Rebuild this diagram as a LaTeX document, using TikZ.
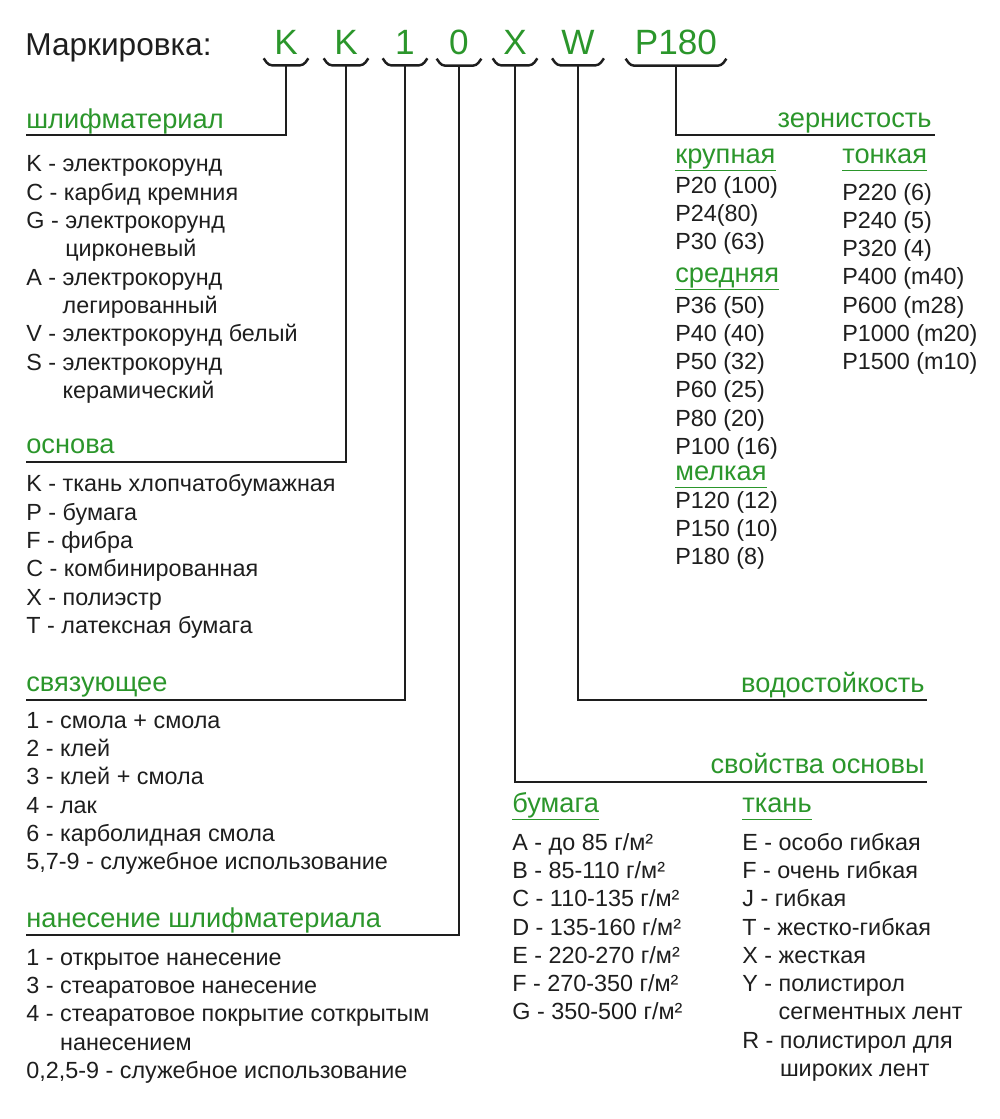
\documentclass[tikz,border=0pt]{standalone}
\usepackage{fontspec}
\setmainfont{Liberation Sans}
\definecolor{leaf}{RGB}{43,150,43}
\definecolor{ink}{RGB}{30,30,30}
\newcommand\titlefont{\fontsize{18}{21}\selectfont}
\newcommand\codefont{\fontsize{20}{24}\selectfont}
\newcommand\headfont{\fontsize{15.5}{18}\selectfont}
\newcommand\bodyfont{\fontsize{13.3}{16}\selectfont}
\begin{document}
\begin{tikzpicture}[x=0.02cm,y=-0.02cm,
    lead/.style={line width=1.6pt,ink},
    brc/.style={line width=1.4pt,ink,rounded corners=2pt},
    code/.style={anchor=base,text=leaf,font=\codefont,inner xsep=1.8mm,inner ysep=0.8mm,minimum width=8.8mm},
    head/.style={text=leaf,font=\headfont,inner sep=0},
    sub/.style={anchor=base west,text=leaf,font=\headfont,inner sep=0},
    subline/.style={leaf,line width=0.8pt},
    item/.style={anchor=base west,text=ink,font=\bodyfont,inner sep=0}]
    \useasboundingbox (0,0) rectangle (1000,1119);

    % 标题与代码
    \node[anchor=base west,inner sep=0,text=ink,font=\titlefont] (title) at (25,55) {Маркировка:};
    \node[code] (cK1) at (286,54) {K};
    \node[code] (cK2) at (346,54) {K};
    \node[code] (c1) at (405,54) {1};
    \node[code] (c0) at (459,54) {0};
    \node[code] (cX) at (515,54) {X};
    \node[code] (cW) at (578,54) {W};
    \node[code] (cP) at (676,54) {P180};

    % 括号
    \foreach \c in {cK1,cK2,c1,c0,cX,cW,cP}
        \draw[brc] (\c.south west) -- ([shift={(5,7)}]\c.south west) -- ([shift={(-5,7)}]\c.south east) -- (\c.south east);

    % 引线
    \coordinate (u1) at (26,135);
    \coordinate (u2) at (26,462);
    \coordinate (u3) at (26,700);
    \coordinate (u4) at (26,935);
    \coordinate (u5) at (927,782);
    \coordinate (u6) at (927,700);
    \coordinate (u7) at (935,135);
    \draw[lead] ([shift={(0,7)}]cK1.south) |- (u1);
    \draw[lead] ([shift={(0,7)}]cK2.south) |- (u2);
    \draw[lead] ([shift={(0,7)}]c1.south) |- (u3);
    \draw[lead] ([shift={(0,7)}]c0.south) |- (u4);
    \draw[lead] ([shift={(0,7)}]cX.south) |- (u5);
    \draw[lead] ([shift={(0,7)}]cW.south) |- (u6);
    \draw[lead] ([shift={(0,7)}]cP.south) |- (u7);

    % 标题
    \node[head,anchor=base west] (hAbr) at (26,128) {шлифматериал};
    \node[head,anchor=base west] (hBase) at (26,453) {основа};
    \node[head,anchor=base west] (hBond) at (26,691) {связующее};
    \node[head,anchor=base west] (hCoat) at (26,927) {нанесение шлифматериала};
    \node[head,anchor=base east] (hGrit) at (932,127) {зернистость};
    \node[head,anchor=base east] (hWater) at (925,692) {водостойкость};
    \node[head,anchor=base east] (hProp) at (925,773) {свойства основы};

    % 左侧列表
    \foreach \t [count=\i from 0] in {K - электрокорунд,C - карбид кремния,G - электрокорунд,
        \phantom{G - }цирконевый,A - электрокорунд,\phantom{A - }легированный,
        V - электрокорунд белый,S - электрокорунд,\phantom{S - }керамический}
        \node[item] (ab\i) at (26,{171.7+28.33*\i}) {\t};
    \foreach \t [count=\i from 0] in {K - ткань хлопчатобумажная,P - бумага,F - фибра,
        C - комбинированная,X - полиэстр,T - латексная бумага}
        \node[item] (bs\i) at (26,{491.7+28.33*\i}) {\t};
    \foreach \t [count=\i from 0] in {1 - смола + смола,2 - клей,3 - клей + смола,4 - лак,
        6 - карболидная смола,{5,7-9 - служебное использование}}
        \node[item] (bd\i) at (26,{728.3+28.33*\i}) {\t};
    \foreach \t [count=\i from 0] in {1 - открытое нанесение,3 - стеаратовое нанесение,
        4 - стеаратовое покрытие соткрытым,\phantom{4 - }нанесением,{0,2,5-9 - служебное использование}}
        \node[item] (ct\i) at (26,{965+28.33*\i}) {\t};

    % 粒度
    \node[sub] (sCoarse) at (675,163) {крупная};
    \node[sub] (sMid) at (675,282) {средняя};
    \node[sub] (sSmall) at (675,480) {мелкая};
    \node[sub] (sFine) at (842,163) {тонкая};
    \foreach \s in {sCoarse,sMid,sSmall,sFine}
        \draw[subline] ([yshift=-1.5mm]\s.base west) -- ([yshift=-1.5mm]\s.base east);
    \foreach \t [count=\i from 0] in {P20 (100),P24(80),P30 (63)}
        \node[item] (gc\i) at (675,{193+28.33*\i}) {\t};
    \foreach \t [count=\i from 0] in {P36 (50),P40 (40),P50 (32),P60 (25),P80 (20),P100 (16)}
        \node[item] (gm\i) at (675,{313+28.33*\i}) {\t};
    \foreach \t [count=\i from 0] in {P120 (12),P150 (10),P180 (8)}
        \node[item] (gs\i) at (675,{508+28.33*\i}) {\t};
    \foreach \t [count=\i from 0] in {P220 (6),P240 (5),P320 (4),P400 (m40),P600 (m28),P1000 (m20),P1500 (m10)}
        \node[item] (gf\i) at (842,{200+28.33*\i}) {\t};

    % 基材性能
    \node[sub] (sPaper) at (512,812) {бумага};
    \node[sub] (sCloth) at (742,812) {ткань};
    \foreach \s in {sPaper,sCloth}
        \draw[subline] ([yshift=-1.5mm]\s.base west) -- ([yshift=-1.5mm]\s.base east);
    \foreach \t [count=\i from 0] in {A - до 85 г/м²,B - 85-110 г/м²,C - 110-135 г/м²,D - 135-160 г/м²,
        E - 220-270 г/м²,F - 270-350 г/м²,G - 350-500 г/м²}
        \node[item] (pp\i) at (512,{850+28.33*\i}) {\t};
    \foreach \t [count=\i from 0] in {E - особо гибкая,F - очень гибкая,J - гибкая,T - жестко-гибкая,
        X - жесткая,Y - полистирол,\phantom{Y - }сегментных лент,R - полистирол для,\phantom{R - }широких лент}
        \node[item] (cl\i) at (742,{850+28.33*\i}) {\t};
\end{tikzpicture}
\end{document}
